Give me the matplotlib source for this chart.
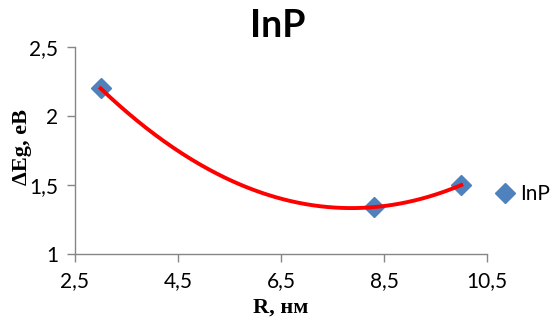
import numpy as np
import matplotlib
matplotlib.use("Agg")
import matplotlib.pyplot as plt

# радиус (нм) и изменение ширины запрещённой зоны (эВ)
radius = [3.0, 8.3, 10.0]
delta_eg = [2.2, 1.34, 1.5]

x_ticks = [2.5, 4.5, 6.5, 8.5, 10.5]
x_labels = ["2,5", "4,5", "6,5", "8,5", "10,5"]
y_ticks = [1.0, 1.5, 2.0, 2.5]
y_labels = ["1", "1,5", "2", "2,5"]

marker_color = "#4F81BD"
trend_color = "#FF0000"
axis_color = "#868686"
sans = ["Lato", "DejaVu Sans"]
serif = ["Liberation Serif", "DejaVu Serif"]

fig = plt.figure(figsize=(5.55, 3.22), dpi=100)
ax = fig.add_axes([0.135, 0.211, 0.7425, 0.643])

# полиномиальный тренд 2-й степени
coef = np.polyfit(radius, delta_eg, 2)
xs = np.linspace(min(radius), max(radius), 200)
ax.plot(xs, np.polyval(coef, xs), color=trend_color, lw=2.8, zorder=3)
pts, = ax.plot(radius, delta_eg, "D", color=marker_color, ms=10.5,
               ls="none", zorder=2, label="InP")

ax.set_xlim(2.5, 10.5)
ax.set_ylim(1.0, 2.5)
ax.set_xticks(x_ticks)
ax.set_xticklabels(x_labels, fontfamily=sans, fontsize=15)
ax.set_yticks(y_ticks)
ax.set_yticklabels(y_labels, fontfamily=sans, fontsize=15)
ax.tick_params(direction="out", length=6, width=1, color=axis_color, pad=6)

for side in ("top", "right"):
    ax.spines[side].set_visible(False)
for side in ("left", "bottom"):
    ax.spines[side].set_color(axis_color)
    ax.spines[side].set_linewidth(1)

fig.text(0.5, 0.92, "InP", ha="center", va="center", fontsize=27,
         fontweight="bold", fontfamily=sans)
fig.text(0.505, 0.045, "R, нм", ha="center", va="center", fontsize=16,
         fontweight="bold", fontfamily=serif)
fig.text(0.04, 0.545, "ΔEg, eB", ha="center", va="center", rotation=90,
         fontsize=16, fontweight="bold", fontfamily=serif)

fig.legend(handles=[pts], loc="center left", bbox_to_anchor=(0.869, 0.397),
           frameon=False, prop={"family": sans, "size": 15},
           handletextpad=0.1, handlelength=1.2, borderpad=0)

fig.savefig("out.png", dpi=100)
